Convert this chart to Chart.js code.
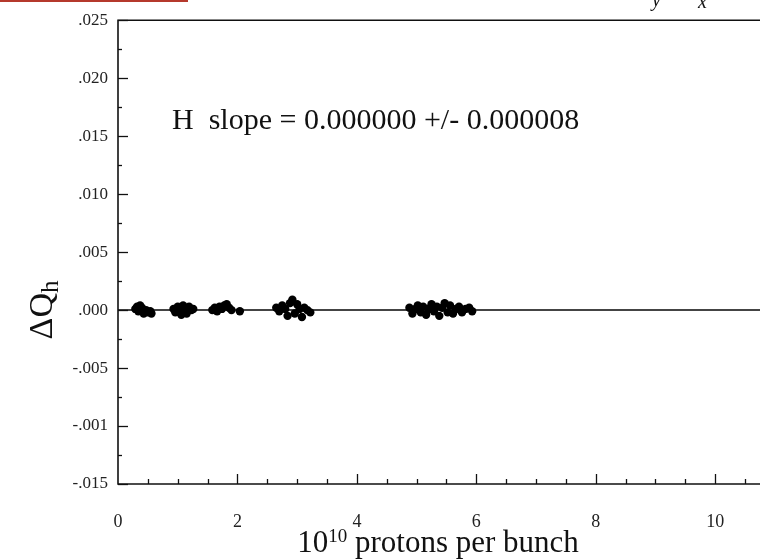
<!DOCTYPE html>
<html>
<head>
<meta charset="utf-8">
<script src="https://cdn.jsdelivr.net/npm/chart.js@4/dist/chart.umd.min.js"></script>
<style>
  html, body { margin: 0; padding: 0; background: #ffffff; }
  #wrap { width: 760px; height: 560px; position: relative; }
</style>
</head>
<body>
<div id="wrap"><canvas id="c" width="760" height="560"></canvas></div>
<script>
// ---- data ----
const cluster1X = [0.29, 0.32, 0.34, 0.37, 0.40, 0.43, 0.47, 0.50, 0.54, 0.56];
const cluster1Y = [0.0001, 0.0003, -0.0001, 0.0004, 0.0002, -0.0003, 0.0000, -0.0002, -0.0001, -0.0003];
const cluster2X = [0.93, 0.96, 1.00, 1.03, 1.06, 1.09, 1.12, 1.15, 1.19, 1.23, 1.26];
const cluster2Y = [0.0001, -0.0002, 0.0003, 0.0000, -0.0004, 0.0004, 0.0001, -0.0003, 0.0003, 0.0000, 0.0001];
const cluster3X = [1.58, 1.62, 1.66, 1.70, 1.74, 1.78, 1.82, 1.86, 1.90, 2.04];
const cluster3Y = [0.0000, 0.0002, -0.0001, 0.0003, 0.0001, 0.0004, 0.0005, 0.0002, 0.0000, -0.0001];
const cluster4X = [2.65, 2.70, 2.75, 2.80, 2.84, 2.88, 2.92, 2.96, 3.00, 3.04, 3.08, 3.12, 3.17, 3.22];
const cluster4Y = [0.0002, -0.0001, 0.0004, 0.0001, -0.0005, 0.0006, 0.0009, -0.0003, 0.0005, 0.0001, -0.0006, 0.0002, 0.0000, -0.0002];
const cluster5X = [4.88, 4.93, 4.98, 5.02, 5.07, 5.11, 5.16, 5.20, 5.25, 5.29, 5.34, 5.38, 5.43, 5.47, 5.52, 5.56, 5.61, 5.66, 5.71, 5.76, 5.82, 5.88, 5.93];
const cluster5Y = [0.0002, -0.0003, 0.0001, 0.0004, -0.0002, 0.0003, -0.0004, 0.0001, 0.0005, -0.0001, 0.0003, -0.0005, 0.0002, 0.0006, -0.0002, 0.0004, -0.0003, 0.0001, 0.0003, -0.0002, 0.0001, 0.0002, -0.0001];

const fitSlope = 0.000000;
const fitIntercept = 0.000000;
const fitLineX = [0, 10.8];

const xTickValues = [0, 2, 4, 6, 8, 10];
const xTickLabels = ['0', '2', '4', '6', '8', '10'];
const yTickValues = [-0.015, -0.010, -0.005, 0.000, 0.005, 0.010, 0.015, 0.020, 0.025];
const yTickLabels = ['-.015', '-.001', '-.005', '.000', '.005', '.010', '.015', '.020', '.025'];

const annotationText = 'H  slope = 0.000000 +/- 0.000008';
const xTitleBase = '10';
const xTitleExp = '10';
const xTitleRest = ' protons per bunch';
const yTitleMain = '\u0394Q';
const yTitleSub = 'h';

// ---- build ----
function pts(xs, ys) { return xs.map((x, i) => ({ x: x, y: ys[i] })); }
const allPoints = [].concat(
  pts(cluster1X, cluster1Y), pts(cluster2X, cluster2Y), pts(cluster3X, cluster3Y),
  pts(cluster4X, cluster4Y), pts(cluster5X, cluster5Y));
const fitPoints = fitLineX.map(x => ({ x: x, y: fitIntercept + fitSlope * x }));

const SERIF = '"Liberation Serif", "DejaVu Serif", serif';

const framePlugin = {
  id: 'frame',
  afterDraw(chart) {
    const ctx = chart.ctx;
    const xs = chart.scales.x, ys = chart.scales.y;
    const L = xs.left, R = chart.width, T = ys.top, B = ys.bottom;
    ctx.save();
    ctx.strokeStyle = '#111';
    ctx.lineWidth = 1.6;
    // frame: left, bottom, top
    ctx.beginPath();
    ctx.moveTo(R, T); ctx.lineTo(L, T); ctx.lineTo(L, B); ctx.lineTo(R, B);
    ctx.stroke();
    // y ticks (inside)
    ctx.lineWidth = 1.3;
    for (let v = -0.015; v <= 0.0251; v += 0.0025) {
      const py = Math.round(ys.getPixelForValue(v)) + 0.5;
      const major = Math.abs(Math.round(v / 0.005) * 0.005 - v) < 1e-6;
      ctx.beginPath();
      ctx.moveTo(L, py); ctx.lineTo(L + (major ? 10 : 4), py);
      ctx.stroke();
    }
    // x ticks (inside, pointing up)
    for (let v = 0.5; v <= 10.75; v += 0.5) {
      const px = Math.round(xs.getPixelForValue(v)) + 0.5;
      const major = Math.abs(v / 2 - Math.round(v / 2)) < 1e-6;
      ctx.beginPath();
      ctx.moveTo(px, B); ctx.lineTo(px, B - (major ? 10 : 5));
      ctx.stroke();
    }
    // annotation
    ctx.fillStyle = '#111';
    ctx.font = '30px ' + SERIF;
    ctx.textAlign = 'left';
    ctx.textBaseline = 'alphabetic';
    ctx.fillText(annotationText, 172, 129);

    // x title with superscript
    const big = '31px ' + SERIF, small = '19px ' + SERIF;
    ctx.font = big; const w1 = ctx.measureText(xTitleBase).width;
    ctx.font = small; const w2 = ctx.measureText(xTitleExp).width;
    ctx.font = big; const w3 = ctx.measureText(xTitleRest).width;
    const total = w1 + w2 + w3;
    let sx = 438 - total / 2;
    const base = 552;
    ctx.font = big; ctx.fillText(xTitleBase, sx, base); sx += w1;
    ctx.font = small; ctx.fillText(xTitleExp, sx, base - 10); sx += w2;
    ctx.font = big; ctx.fillText(xTitleRest, sx, base);

    // y title rotated with subscript
    ctx.save();
    ctx.translate(52, 310);
    ctx.rotate(-Math.PI / 2);
    ctx.font = '34px ' + SERIF;
    const m1 = ctx.measureText(yTitleMain).width;
    ctx.font = '25px ' + SERIF;
    const m2 = ctx.measureText(yTitleSub).width;
    let yx = -(m1 + m2) / 2;
    ctx.font = '34px ' + SERIF;
    ctx.fillText(yTitleMain, yx, 0);
    ctx.font = '25px ' + SERIF;
    ctx.fillText(yTitleSub, yx + m1, 6);
    ctx.restore();

    // scan artefacts: red bar and clipped glyphs at the top
    ctx.fillStyle = '#b5392c';
    ctx.fillRect(0, 0, 188, 2);
    ctx.fillStyle = '#111';
    ctx.font = 'italic 20px ' + SERIF;
    ctx.fillText('y', 652, 6);
    ctx.fillText('x', 698, 8);
    ctx.restore();
  }
};

new Chart(document.getElementById('c'), {
  type: 'scatter',
  data: {
    datasets: [
      {
        type: 'line',
        data: fitPoints,
        borderColor: '#444',
        borderWidth: 2,
        pointRadius: 0,
        fill: false,
        clip: false,
        order: 2
      },
      {
        data: allPoints,
        backgroundColor: '#000',
        borderColor: '#000',
        pointRadius: 4.2,
        pointBorderWidth: 0,
        order: 1
      }
    ]
  },
  options: {
    responsive: false,
    animation: false,
    devicePixelRatio: 1,
    layout: { padding: { top: 20, left: 0, right: 0, bottom: 0 } },
    plugins: { legend: { display: false }, tooltip: { enabled: false } },
    scales: {
      x: {
        type: 'linear',
        min: 0,
        max: 10.68,
        border: { display: false },
        grid: { display: false, drawTicks: false },
        afterFit(s) { s.height = 76; },
        afterBuildTicks(s) { s.ticks = xTickValues.map(v => ({ value: v })); },
        ticks: {
          padding: 27,
          color: '#222',
          font: { family: SERIF, size: 18 },
          callback(v) { const i = xTickValues.indexOf(v); return i >= 0 ? xTickLabels[i] : ''; }
        }
      },
      y: {
        type: 'linear',
        min: -0.015,
        max: 0.025,
        border: { display: false },
        grid: { display: false, drawTicks: false },
        afterFit(s) { s.width = 118; },
        afterBuildTicks(s) { s.ticks = yTickValues.map(v => ({ value: v })); },
        ticks: {
          padding: 10,
          color: '#222',
          font: { family: SERIF, size: 17 },
          callback(v) {
            let best = 0;
            yTickValues.forEach((t, i) => { if (Math.abs(t - v) < Math.abs(yTickValues[best] - v)) best = i; });
            return yTickLabels[best];
          }
        }
      }
    }
  },
  plugins: [framePlugin]
});
</script>
</body>
</html>
